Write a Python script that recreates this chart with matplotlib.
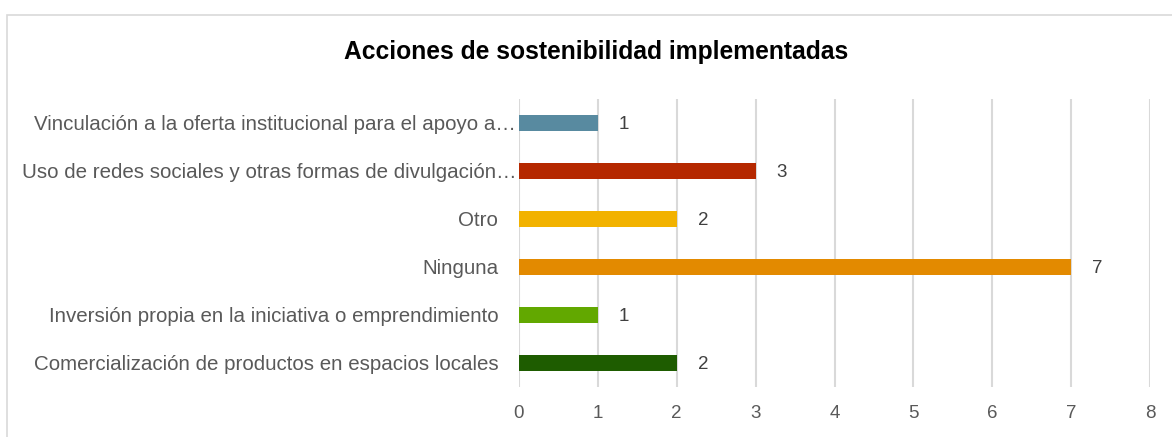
import matplotlib.pyplot as plt
import matplotlib.patches as mpatches

plt.rcParams['font.family'] = ['Liberation Sans', 'DejaVu Sans']

# Data (bottom to top)
categories = [
    'Comercialización de productos en espacios locales',
    'Inversión propia en la iniciativa o emprendimiento',
    'Ninguna',
    'Otro',
    'Uso de redes sociales y otras formas de divulgación…',
    'Vinculación a la oferta institucional para el apoyo a…',
]
values = [2, 1, 7, 2, 3, 1]
colors = ['#1e5c00', '#62a800', '#e38a00', '#f2b200', '#b52800', '#588aa0']
xticks = [0, 1, 2, 3, 4, 5, 6, 7, 8]

fig = plt.figure(figsize=(11.72, 4.37), dpi=100)
ax = fig.add_axes([519 / 1172, 1 - 387 / 437, 631 / 1172, 288 / 437])

# chart frame (partially visible in the reference)
fig.patches.append(mpatches.Rectangle((7 / 1172, -0.1), 1.2, 1 - 15 / 437 + 0.1,
                                      transform=fig.transFigure, fill=False,
                                      edgecolor='#d9d9d9', linewidth=1.2))

ypos = list(range(len(categories)))
ax.barh(ypos, values, height=0.35, color=colors, zorder=3)

for y, v in zip(ypos, values):
    ax.annotate(str(v), (v, y), xytext=(15, -1), textcoords='offset points',
                va='center', ha='left', fontsize=13.5, color='#404040')

# category labels: truncated ones (Excel style) sit closer to the axis
for y, lab in zip(ypos, categories):
    pad = -2 if lab.endswith('…') else -15
    ax.annotate(lab, (0, y), xycoords=('axes fraction', 'data'),
                xytext=(pad, -1), textcoords='offset points',
                ha='right', va='center', fontsize=14.8, color='#595959')

ax.set_xlim(0, 8)
ax.set_ylim(-0.5, len(categories) - 0.5)
ax.set_xticks(xticks)
ax.set_yticks(ypos)
ax.set_yticklabels([])
ax.tick_params(axis='both', length=0, labelsize=13.5, labelcolor='#595959')
ax.tick_params(axis='x', pad=13)
ax.grid(axis='x', color='#d9d9d9', linewidth=1.5, zorder=0)
for s in ax.spines.values():
    s.set_visible(False)

fig.text(596 / 1172, 1 - 52 / 437, 'Acciones de sostenibilidad implementadas',
         ha='center', va='center', fontsize=17.7, fontweight='bold', color='black')

fig.savefig('out.png', dpi=100)
